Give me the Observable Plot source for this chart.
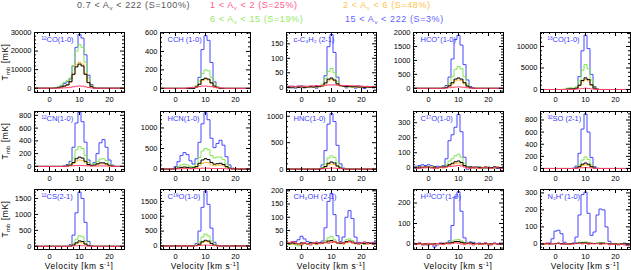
<!DOCTYPE html>
<html><head><meta charset="utf-8">
<script src="https://cdn.jsdelivr.net/npm/d3@7"></script>
<script src="https://cdn.jsdelivr.net/npm/@observablehq/plot@0.6"></script>
<style>
body{margin:0;background:#fff;}
#chart{position:relative;width:631px;height:270px;overflow:hidden;font-family:"Liberation Sans",Arial,sans-serif;}
#chart svg{position:absolute;overflow:visible;}
.t{position:absolute;white-space:nowrap;font-size:9px;letter-spacing:0.6px;line-height:1;}
.t sub{font-size:6px;vertical-align:-2px;line-height:0;}
.ax{position:absolute;white-space:nowrap;font-size:8.4px;letter-spacing:0.6px;line-height:1;color:#000;}
.ax sub{font-size:5.5px;vertical-align:-2px;line-height:0;}
.ax sup{font-size:5.5px;vertical-align:3px;line-height:0;}
.rot{transform:translate(-50%,-50%) rotate(-90deg);}
.ctr{transform:translate(-50%,0);}
</style></head><body><div id="chart"></div><script>
// velocity channels (km/s)
const vel = [-5,-4,-3,-2,-1,0,1,2,3,4,5,6,7,8,9,10,11,12,13,14,15,16,17,18,19,20,21,22,23,24,25];

// legend / series
const seriesNames = ["0.7 < A_v < 222 (S=100%)","1 < A_v < 2 (S=25%)","2 < A_v < 6 (S=48%)","6 < A_v < 15 (S=19%)","15 < A_v < 222 (S=3%)"];
const seriesColors = ["#000000","#ff4070","#ffb733","#80e650","#4646ff"];
const legendColors = ["#555555","#ff5c8a","#ffc44d","#96e868","#6262ff"];

const xTicks = [0,10,20];

// 12CO(1-0)
const co12_black  = [0,0,0,0,0,0,0,100,300,700,1200,1800,3500,7500,11500,13000,12000,7500,3000,800,100,0,0,0,0,0,0,0,0,0,0];
const co12_red    = [0,0,0,0,0,0,0,0,50,100,200,300,500,800,1100,1200,1100,800,400,150,50,0,0,0,0,0,0,0,0,0,0];
const co12_orange = [0,0,0,0,0,0,0,0,200,500,900,1600,3200,7500,12500,14000,13000,8000,3200,800,100,0,0,0,0,0,0,0,0,0,0];
const co12_green  = [0,0,0,0,0,0,0,200,700,1800,3200,4000,5500,12000,20000,23500,22000,14000,5500,1500,300,0,0,0,0,0,0,0,0,0,0];
const co12_blue   = [0,0,0,0,0,0,0,200,600,1200,2500,3500,5000,12000,22000,29000,27000,18000,7000,2000,400,0,0,0,0,0,0,0,0,0,0];
// CCH (1-0)
const cch_black  = [0,0,0,0,0,0,0,0,0,0,0,0,15,45,95,110,100,60,25,8,0,0,0,0,0,0,0,0,0,0,0];
const cch_red    = [0,0,0,0,0,0,0,0,0,5,8,10,15,20,25,25,22,18,12,8,5,3,0,0,0,0,0,0,0,0,0];
const cch_orange = [0,0,0,0,0,0,0,0,0,0,0,0,10,40,85,100,90,55,20,5,0,0,0,0,0,0,0,0,0,0,0];
const cch_green  = [0,0,0,0,0,0,0,0,0,0,0,10,30,80,160,200,190,120,50,15,0,0,0,0,0,0,0,0,0,0,0];
const cch_blue   = [0,0,0,0,0,0,0,0,0,0,0,5,20,120,420,570,520,280,70,15,0,0,0,0,0,0,0,0,0,0,0];
// c-C3H2 (2-1)
const c3h2_black  = [0,1,-1,2,0,1,0,1,2,1,2,3,5,15,28,32,25,12,6,4,3,3,2,2,1,1,0,1,0,0,1];
const c3h2_red    = [2,4,1,3,5,2,4,3,5,4,6,5,6,7,8,8,8,7,7,6,6,5,5,5,4,4,3,3,2,3,2];
const c3h2_orange = [1,-1,0,2,-1,0,1,0,1,2,1,2,4,12,22,27,22,10,5,3,2,2,1,1,0,1,0,0,1,0,0];
const c3h2_green  = [-2,1,-3,2,0,-2,3,-1,2,0,1,3,10,30,55,65,50,20,5,3,2,1,0,2,-1,1,0,-1,2,0,1];
const c3h2_blue   = [3,-2,4,-3,2,5,-2,3,0,4,-3,2,8,40,140,182,120,35,5,3,-2,4,0,-3,5,2,-4,3,1,-2,4];
// HCO+(1-0)
const hco_black  = [0,0,0,0,0,0,0,0,0,0,5,25,90,200,330,370,330,200,80,20,5,0,0,0,0,0,0,0,0,0,0];
const hco_red    = [0,0,0,0,0,0,0,0,0,0,5,10,20,35,45,50,45,35,20,10,5,0,0,0,0,0,0,0,0,0,0];
const hco_orange = [0,0,0,0,0,0,0,0,0,0,5,20,70,160,270,300,270,160,60,15,0,0,0,0,0,0,0,0,0,0,0];
const hco_green  = [0,0,0,0,0,0,0,0,0,0,10,50,180,420,680,780,700,420,150,30,5,0,0,0,0,0,0,0,0,0,0];
const hco_blue   = [0,0,0,0,0,0,0,0,0,0,20,100,400,1050,1750,1900,1550,850,300,60,10,0,0,0,0,0,0,0,0,0,0];
// 13CO(1-0)
const co13_black  = [0,0,0,0,0,0,0,0,0,100,150,150,300,1000,2100,2700,2300,1100,300,50,0,0,0,0,0,0,0,0,0,0,0];
const co13_red    = [0,0,0,0,0,0,0,0,0,0,0,0,80,150,250,300,250,150,80,30,0,0,0,0,0,0,0,0,0,0,0];
const co13_orange = [0,0,0,0,0,0,0,0,0,0,0,0,250,850,1800,2300,2000,950,250,50,0,0,0,0,0,0,0,0,0,0,0];
const co13_green  = [0,0,0,0,0,0,0,0,100,300,400,300,600,2000,4500,5800,4800,2200,500,100,0,0,0,0,0,0,0,0,0,0,0];
const co13_blue   = [0,0,0,0,0,0,0,0,0,0,0,0,300,3000,9000,12600,9500,3500,700,100,0,0,0,0,0,0,0,0,0,0,0];
// 12CN(1-0)
const cn_black  = [0,0,0,0,0,0,0,0,0,0,0,8,20,60,120,145,130,80,30,12,20,40,55,55,40,15,5,0,0,0,0];
const cn_red    = [0,0,0,0,0,0,0,0,0,0,0,5,8,10,12,15,12,10,8,6,6,6,8,8,6,5,3,0,0,0,0];
const cn_orange = [0,0,0,0,0,0,0,0,0,0,0,5,15,45,85,100,90,55,20,8,15,28,40,40,28,10,3,0,0,0,0];
const cn_green  = [0,0,0,0,0,0,0,0,0,0,5,15,40,130,260,310,280,170,60,25,40,80,115,120,90,35,10,0,0,0,0];
const cn_blue   = [0,0,0,0,0,0,0,0,0,0,10,30,80,300,680,850,700,380,100,30,60,200,370,420,300,100,20,0,0,0,0];
// HCN(1-0)
const hcn_black  = [0,0,0,0,0,10,25,40,50,40,25,30,60,140,220,250,230,160,120,130,140,110,60,20,5,0,0,0,0,0,0];
const hcn_red    = [0,0,0,0,0,3,5,8,10,8,6,6,10,15,20,22,20,15,12,12,12,10,6,3,0,0,0,0,0,0,0];
const hcn_orange = [0,0,0,0,0,5,15,25,30,25,15,20,40,90,140,160,150,100,80,90,100,80,40,15,5,0,0,0,0,0,0];
const hcn_green  = [0,0,0,0,5,20,60,100,120,100,60,60,120,280,440,500,470,330,270,290,290,230,120,40,10,0,0,0,0,0,0];
const hcn_blue   = [0,0,0,0,10,60,180,330,400,350,200,120,250,650,1100,1370,1200,750,520,620,700,580,300,100,20,0,0,0,0,0,0];
// HNC(1-0)
const hnc_black  = [0,0,0,0,0,0,0,0,0,0,0,0,15,50,110,135,115,60,20,5,0,0,0,0,0,0,0,0,0,0,0];
const hnc_red    = [0,0,0,0,0,0,0,0,0,0,0,0,5,10,15,20,18,12,8,5,0,0,0,0,0,0,0,0,0,0,0];
const hnc_orange = [0,0,0,0,0,0,0,0,0,0,0,0,10,35,80,95,85,45,15,5,0,0,0,0,0,0,0,0,0,0,0];
const hnc_green  = [0,0,0,0,0,0,0,0,0,0,0,5,30,100,210,250,220,120,40,10,0,0,0,0,0,0,0,0,0,0,0];
const hnc_blue   = [0,0,0,0,0,0,0,0,0,0,0,10,80,350,850,1050,900,450,100,20,0,0,0,0,0,0,0,0,0,0,0];
// C17O(1-0)
const c17o_black  = [0,0,5,0,5,5,0,5,0,5,5,10,20,30,40,45,35,15,5,5,0,5,0,0,5,0,0,5,0,0,5];
const c17o_red    = [5,0,-5,5,0,5,0,-5,0,5,0,5,8,10,12,15,12,5,0,-5,5,0,-5,0,5,0,-5,0,5,-5,0];
const c17o_orange = [0,-5,0,5,0,0,5,0,-5,0,0,5,15,20,28,32,25,10,0,0,0,-5,0,5,0,-5,0,0,5,0,-5];
const c17o_green  = [0,5,0,10,5,5,10,5,0,5,10,20,45,60,80,90,70,30,5,5,5,0,5,-5,0,5,0,-5,5,0,0];
const c17o_blue   = [5,10,15,20,15,20,15,5,10,5,15,60,180,220,270,355,240,70,-10,5,5,-5,5,0,-5,5,0,5,-5,0,5];
// 32SO(2-1)
const so_black  = [0,0,0,0,0,0,0,0,0,0,0,0,8,30,70,90,70,30,8,0,0,0,0,0,0,0,0,0,0,0,0];
const so_red    = [0,0,0,0,0,0,0,0,0,0,0,0,5,8,12,15,12,8,5,0,0,0,0,0,0,0,0,0,0,0,0];
const so_orange = [0,0,0,0,0,0,0,0,0,0,0,0,5,20,45,60,50,20,5,0,0,0,0,0,0,0,0,0,0,0,0];
const so_green  = [0,0,0,0,0,0,0,0,0,0,0,0,15,60,140,190,150,60,15,0,0,0,0,0,0,0,0,0,0,0,0];
const so_blue   = [0,0,0,0,0,0,0,0,0,0,0,5,40,250,650,900,600,180,30,5,0,0,0,0,0,0,0,0,0,0,0];
// 12CS(2-1)
const cs_black  = [0,0,0,0,0,0,0,0,0,0,0,0,8,40,110,170,150,75,20,3,0,0,0,0,0,0,0,0,0,0,0];
const cs_red    = [0,0,0,0,0,0,0,0,0,0,0,0,5,10,15,20,18,12,5,0,0,0,0,0,0,0,0,0,0,0,0];
const cs_orange = [0,0,0,0,0,0,0,0,0,0,0,0,5,30,80,120,110,55,15,0,0,0,0,0,0,0,0,0,0,0,0];
const cs_green  = [0,0,0,0,0,0,0,0,0,0,0,0,15,80,220,330,300,150,40,5,0,0,0,0,0,0,0,0,0,0,0];
const cs_blue   = [0,0,0,0,0,0,0,0,0,0,0,0,50,350,1050,1700,1500,750,150,20,0,0,0,0,0,0,0,0,0,0,0];
// C18O(1-0)
const c18o_black  = [0,0,0,0,0,0,0,0,0,0,0,0,15,60,140,190,165,85,25,5,0,0,0,0,0,0,0,0,0,0,0];
const c18o_red    = [0,0,0,0,0,0,0,0,0,0,0,0,5,15,25,30,25,15,8,0,0,0,0,0,0,0,0,0,0,0,0];
const c18o_orange = [0,0,0,0,0,0,0,0,0,0,0,0,10,50,110,150,130,65,20,0,0,0,0,0,0,0,0,0,0,0,0];
const c18o_green  = [0,0,0,0,0,0,0,0,0,0,0,0,30,130,300,400,340,170,50,10,0,0,0,0,0,0,0,0,0,0,0];
const c18o_blue   = [0,0,0,0,0,0,0,0,0,0,0,0,80,500,1300,1850,1400,600,120,20,0,0,0,0,0,0,0,0,0,0,0];
// CH3OH(2-1)
const ch3oh_black  = [2,0,3,0,0,3,2,0,3,2,0,2,3,5,10,12,8,3,2,3,8,10,6,2,0,2,0,3,1,0,2];
const ch3oh_red    = [5,2,8,3,0,-5,3,0,-5,2,5,0,3,5,2,5,8,3,6,2,5,8,3,5,0,3,6,0,4,-2,5];
const ch3oh_orange = [0,3,-2,2,-3,0,3,-2,0,3,-3,2,0,3,5,8,5,2,0,-2,3,5,3,0,-3,0,2,-2,3,0,-2];
const ch3oh_green  = [0,-3,2,-5,-8,-5,0,-3,2,0,3,0,5,12,22,28,15,5,0,5,15,18,12,3,0,2,-2,3,0,-3,2];
const ch3oh_blue   = [3,5,2,8,15,28,18,8,5,3,6,4,10,60,160,190,110,30,8,25,100,125,95,25,5,3,6,2,4,5,3];
// H13CO+(1-0)
const h13co_black  = [2,0,2,0,0,0,0,0,2,2,3,3,5,8,12,12,8,5,3,5,3,2,0,0,2,0,0,2,0,0,2];
const h13co_red    = [3,-3,5,0,-5,3,0,-5,2,0,-3,5,0,3,5,3,0,-3,5,0,-5,3,0,-3,5,0,-5,3,0,-3,5];
const h13co_orange = [0,2,-2,0,2,-2,0,2,0,-2,2,0,3,5,8,8,5,2,0,3,0,-2,0,2,-2,0,2,0,-2,0,2];
const h13co_green  = [0,3,0,-3,2,0,2,-2,0,2,3,5,8,15,20,22,15,8,5,5,3,2,0,2,0,-2,0,3,0,-2,0];
const h13co_blue   = [5,0,5,-5,0,-5,0,-15,-5,5,0,5,15,90,230,255,160,30,5,10,8,0,5,0,5,-5,0,5,-3,5,0];
// N2H+(1-0)
const n2h_black  = [0,0,2,0,0,2,3,2,0,0,0,2,3,5,6,6,4,2,2,3,4,4,2,0,0,0,-2,0,0,-2,-3];
const n2h_red    = [3,0,5,-3,2,0,5,-2,0,3,-3,0,5,2,0,3,-2,5,0,3,-3,0,2,-5,0,-3,-5,-2,-6,-8,-5];
const n2h_orange = [2,0,-2,0,2,0,2,0,-2,0,2,0,2,3,4,4,3,0,2,2,3,2,0,-2,0,2,0,-3,0,-2,-3];
const n2h_green  = [0,2,0,0,2,3,5,3,0,0,2,2,5,8,10,12,8,3,3,6,8,8,4,2,0,0,-2,0,2,-3,0];
const n2h_blue   = [0,0,2,5,30,75,80,60,10,0,0,5,40,170,290,305,180,50,70,170,205,200,100,15,0,0,-5,0,5,-10,-5];

// panel labels and y tick labels
const panelLabels = ["¹²CO(1-0)","CCH (1-0)","c-C₃H₂ (2-1)","HCO⁺(1-0)","¹³CO(1-0)",
  "¹²CN(1-0)","HCN(1-0)","HNC(1-0)","C¹⁷O(1-0)","³²SO (2-1)",
  "¹²CS(2-1)","C¹⁸O(1-0)","CH₃OH (2-1)","H¹³CO⁺(1-0)","N₂H⁺(1-0)"];
const yTickLabels = [[0,10000,20000,30000],[0,200,400,600],[0,50,100,150],[0,500,1000,1500,2000],[0,5000,10000],
  [0,200,400,600,800],[0,500,1000],[0,500,1000],[0,100,200,300],[0,200,400,600,800],
  [0,500,1000,1500],[0,500,1000,1500],[0,50,100,150,200],[0,100,200],[0,100,200,300]];
const yDomains = [[-2300,30000],[-45,605],[-18,189],[-150,2000],[-700,13250],
  [-80,860],[-60,1400],[-45,1090],[-25,375],[-50,940],
  [-100,1780],[-120,1900],[-22,205],[-27,266],[-33,320]];
const yMinorSteps = [2000,50,10,100,1000, 50,100,100,20,50, 100,100,10,20,20];
const panelSeries = [
  [co12_black,co12_red,co12_orange,co12_green,co12_blue],
  [cch_black,cch_red,cch_orange,cch_green,cch_blue],
  [c3h2_black,c3h2_red,c3h2_orange,c3h2_green,c3h2_blue],
  [hco_black,hco_red,hco_orange,hco_green,hco_blue],
  [co13_black,co13_red,co13_orange,co13_green,co13_blue],
  [cn_black,cn_red,cn_orange,cn_green,cn_blue],
  [hcn_black,hcn_red,hcn_orange,hcn_green,hcn_blue],
  [hnc_black,hnc_red,hnc_orange,hnc_green,hnc_blue],
  [c17o_black,c17o_red,c17o_orange,c17o_green,c17o_blue],
  [so_black,so_red,so_orange,so_green,so_blue],
  [cs_black,cs_red,cs_orange,cs_green,cs_blue],
  [c18o_black,c18o_red,c18o_orange,c18o_green,c18o_blue],
  [ch3oh_black,ch3oh_red,ch3oh_orange,ch3oh_green,ch3oh_blue],
  [h13co_black,h13co_red,h13co_orange,h13co_green,h13co_blue],
  [n2h_black,n2h_red,n2h_orange,n2h_green,n2h_blue]
];
panelSeries.forEach((ps,i)=>ps.forEach((s,k)=>{ if (s.length !== vel.length) throw new Error("bad length panel "+i+" series "+k+": "+s.length); }));

// layout
const FH = 60, FW = 90, MT = 4, MB = 14, ML = 34, MR = 2;
const frameTops = [32, 111, 189];
const frameLefts = [34, 160, 286, 413, 540];
const drawOrder = [4,3,2,0,1];
const FONT = "Liberation Sans, Arial, sans-serif";
const fmt = d => String(d);

const root = document.getElementById("chart");

function legendHTML(i){
  const parts = seriesNames[i].split("A_v");
  return parts[0] + "A<sub>v</sub>" + parts[1];
}
const legendPos = [[77,1],[210,1],[343,1],[210,15],[345,15]];
legendPos.forEach(([x,y],i)=>{
  const d = document.createElement("div");
  d.className = "t"; d.style.left = x+"px"; d.style.top = y+"px"; d.style.color = legendColors[i];
  d.innerHTML = legendHTML(i);
  root.appendChild(d);
});

panelSeries.forEach((ps, i) => {
  const c = i % 5, r = Math.floor(i / 5);
  const [y0, y1] = yDomains[i];
  const st = yMinorSteps[i];
  const yMinor = d3.range(Math.ceil(y0/st)*st, y1, st).filter(y => !yTickLabels[i].includes(y));
  const xMinor = d3.range(-4, 25, 2).filter(x => x % 10 !== 0);
  const marks = [];
  drawOrder.forEach(k => {
    const data = vel.map((v, j) => ({v, t: ps[k][j]}));
    marks.push(Plot.line(data, {x: "v", y: "t", curve: "step", stroke: seriesColors[k], strokeWidth: 1, clip: true}));
  });
  marks.push(
    Plot.ruleX(xTicks, {insetTop: FH-4, stroke: "#000"}),
    Plot.ruleX(xTicks, {insetBottom: FH-4, stroke: "#000"}),
    Plot.ruleX(xMinor, {insetTop: FH-2, stroke: "#000"}),
    Plot.ruleX(xMinor, {insetBottom: FH-2, stroke: "#000"}),
    Plot.ruleY(yTickLabels[i].filter(y => y <= y1), {insetRight: FW-4, stroke: "#000"}),
    Plot.ruleY(yTickLabels[i].filter(y => y <= y1), {insetLeft: FW-4, stroke: "#000"}),
    Plot.ruleY(yMinor, {insetRight: FW-2, stroke: "#000"}),
    Plot.ruleY(yMinor, {insetLeft: FW-2, stroke: "#000"}),
    Plot.frame({stroke: "#000", strokeWidth: 1}),
    Plot.axisX(xTicks, {tickSize: 0, tickPadding: 4, label: null, fontSize: 7.5, tickFormat: fmt}),
    Plot.axisY(yTickLabels[i], {tickSize: 0, tickPadding: 3, label: null, fontSize: 7.5, tickFormat: fmt}),
    Plot.text([panelLabels[i]], {frameAnchor: "top-left", dx: 7, dy: 4, lineAnchor: "top", fill: "#3a3aff", fontSize: 7.5})
  );
  const svg = Plot.plot({
    width: ML+FW+MR, height: MT+FH+MB,
    marginLeft: ML, marginRight: MR, marginTop: MT, marginBottom: MB,
    x: {domain: [-5, 25]},
    y: {domain: yDomains[i]},
    style: {fontFamily: FONT, fontSize: "7.5px", color: "#000", background: "transparent"},
    marks
  });
  svg.style.left = (frameLefts[c] - ML) + "px";
  svg.style.top = (frameTops[r] - MT) + "px";
  root.appendChild(svg);
});

// axis titles
frameTops.forEach(t => {
  const d = document.createElement("div");
  d.className = "ax rot"; d.style.left = "5px"; d.style.top = (t + FH/2) + "px";
  d.innerHTML = "T<sub>mb</sub> [mK]";
  root.appendChild(d);
});
frameLefts.forEach(l => {
  const d = document.createElement("div");
  d.className = "ax ctr"; d.style.left = (l + FW/2) + "px"; d.style.top = "262px";
  d.innerHTML = "Velocity [km s<sup>-1</sup>]";
  root.appendChild(d);
});
</script></body></html>
